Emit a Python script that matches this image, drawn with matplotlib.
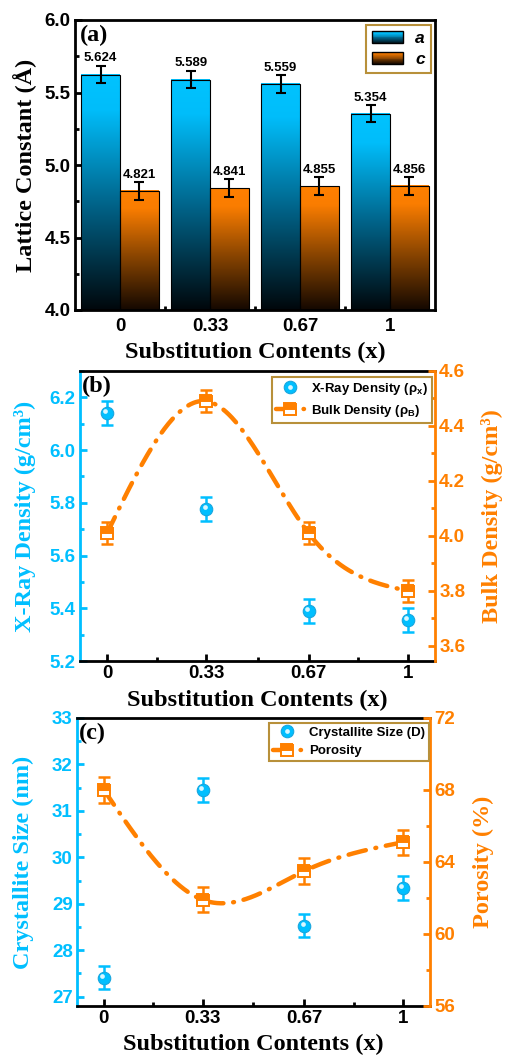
import numpy as np
import matplotlib
matplotlib.use('Agg')
import matplotlib.pyplot as plt
from matplotlib.colors import LinearSegmentedColormap
from matplotlib.patches import Rectangle
from matplotlib.lines import Line2D
from matplotlib.legend_handler import HandlerBase
from matplotlib.transforms import ScaledTranslation
from matplotlib.ticker import MultipleLocator, FixedLocator

# data
contents = [0, 0.33, 0.67, 1]
content_labels = ['0', '0.33', '0.67', '1']

lattice_a = [5.624, 5.589, 5.559, 5.354]
lattice_c = [4.821, 4.841, 4.855, 4.856]
lattice_a_err = [0.06, 0.06, 0.06, 0.06]
lattice_c_err = [0.06, 0.06, 0.06, 0.06]

xray_density = [6.14, 5.776, 5.39, 5.355]
xray_err = [0.045, 0.045, 0.045, 0.045]
bulk_density = [4.01, 4.49, 4.01, 3.80]
bulk_err = [0.04, 0.04, 0.04, 0.04]

cryst_size = [27.41, 31.45, 28.53, 29.34]
cryst_err = [0.25, 0.25, 0.25, 0.25]
porosity = [68.0, 61.9, 63.5, 65.1]
porosity_err = [0.7, 0.7, 0.7, 0.7]

CYAN = '#00BFFF'
ORANGE = '#FF8000'
GOLD = '#B8903A'
SERIF = 'Liberation Serif'
SANS = 'Liberation Sans'
DASH = (0, (4.0, 2.2, 0.2, 2.2))

plt.rcParams['font.family'] = SANS
plt.rcParams['font.weight'] = 'bold'
plt.rcParams['mathtext.default'] = 'regular'

cmap_a = LinearSegmentedColormap.from_list('a', [(0, '#00070b'), (0.45, '#00648a'), (0.85, '#00bdfa'), (1, '#00c3ff')])
cmap_c = LinearSegmentedColormap.from_list('c', [(0, '#140800'), (0.45, '#8a4500'), (0.85, '#fa7d00'), (1, '#ff8000')])


class GradientHandler(HandlerBase):
    def __init__(self, cmap):
        super().__init__()
        self.cmap = cmap

    def create_artists(self, legend, orig_handle, xdescent, ydescent, width, height, fontsize, trans):
        arts = []
        n = 14
        for i in range(n):
            arts.append(Rectangle((-xdescent, -ydescent + height * i / n), width, height / n * 1.1,
                                  facecolor=self.cmap((i + 0.5) / n), edgecolor='none', transform=trans))
        arts.append(Rectangle((-xdescent, -ydescent), width, height, facecolor='none',
                              edgecolor='black', lw=1, transform=trans))
        return arts


def spline_curve(x, y, n=300):
    # natural cubic spline through the points (Origin style spline connection)
    x = np.asarray(x, float)
    y = np.asarray(y, float)
    h = np.diff(x)
    m = len(x)
    A = np.zeros((m, m))
    r = np.zeros(m)
    A[0, 0] = A[-1, -1] = 1
    for i in range(1, m - 1):
        A[i, i - 1] = h[i - 1]
        A[i, i] = 2 * (h[i - 1] + h[i])
        A[i, i + 1] = h[i]
        r[i] = 6 * ((y[i + 1] - y[i]) / h[i] - (y[i] - y[i - 1]) / h[i - 1])
    M = np.linalg.solve(A, r)
    xs = np.linspace(x[0], x[-1], n)
    k = np.clip(np.searchsorted(x, xs) - 1, 0, m - 2)
    t0 = x[k + 1] - xs
    t1 = xs - x[k]
    hk = h[k]
    ys = (M[k] * t0 ** 3 / (6 * hk) + M[k + 1] * t1 ** 3 / (6 * hk)
          + (y[k] / hk - M[k] * hk / 6) * t0 + (y[k + 1] / hk - M[k + 1] * hk / 6) * t1)
    return xs, ys


def style_box(ax, lw=2):
    for s in ax.spines.values():
        s.set_linewidth(lw)


def spheres(ax, fig, x, y):
    ax.plot(x, y, 'o', ms=9, mfc=CYAN, mec='#18a6de', mew=0.8, zorder=5)
    off = ax.transData + ScaledTranslation(-1.3 / 72, 1.3 / 72, fig.dpi_scale_trans)
    ax.plot(x, y, 'o', ms=3.4, mfc='#d8f6ff', mec='none', zorder=6, transform=off)


fig = plt.figure(figsize=(5.05, 10.57), dpi=100)

# ---------------- (a) lattice constants ----------------
ax1 = fig.add_axes([75 / 505, 1 - 310 / 1057, 360 / 505, 290 / 1057])
pos = np.arange(len(contents))
w = 0.43
bars_a = ax1.bar(pos - w / 2, lattice_a, w, bottom=0, facecolor='none', edgecolor='black', lw=0.8, zorder=3)
bars_c = ax1.bar(pos + w / 2, lattice_c, w, bottom=0, facecolor='none', edgecolor='black', lw=0.8, zorder=3)
grad = np.linspace(0, 1, 256).reshape(-1, 1)
for bars, cm in ((bars_a, cmap_a), (bars_c, cmap_c)):
    for b in bars:
        x0 = b.get_x()
        ax1.imshow(grad, cmap=cm, origin='lower', aspect='auto', zorder=2,
                   extent=[x0, x0 + b.get_width(), 4.0, b.get_height()])
ax1.errorbar(pos - w / 2, lattice_a, yerr=lattice_a_err, fmt='none', ecolor='black', elinewidth=1.5,
             capsize=3.5, capthick=1.5, zorder=4)
ax1.errorbar(pos + w / 2, lattice_c, yerr=lattice_c_err, fmt='none', ecolor='black', elinewidth=1.5,
             capsize=3.5, capthick=1.5, zorder=4)
for xp, v, e in zip(pos - w / 2, lattice_a, lattice_a_err):
    ax1.text(xp, v + e + 0.01, f'{v:.3f}', ha='center', va='bottom', fontsize=9.5, fontweight='bold')
for xp, v, e in zip(pos + w / 2, lattice_c, lattice_c_err):
    ax1.text(xp, v + e + 0.01, f'{v:.3f}', ha='center', va='bottom', fontsize=9.5, fontweight='bold')
ax1.set_xlim(-0.5, 3.5)
ax1.set_ylim(4.0, 6.0)
ax1.set_xticks(pos)
ax1.set_xticklabels(content_labels)
ax1.xaxis.set_minor_locator(FixedLocator([0.5, 1.5, 2.5]))
ax1.yaxis.set_major_locator(MultipleLocator(0.5))
ax1.yaxis.set_minor_locator(MultipleLocator(0.25))
ax1.yaxis.set_major_formatter(plt.FormatStrFormatter('%.1f'))
ax1.tick_params(which='both', direction='in', width=2, labelsize=13.5, top=False, right=False)
ax1.tick_params(which='major', length=5)
ax1.tick_params(which='minor', length=3)
ax1.tick_params(axis='x', pad=6)
ax1.tick_params(axis='y', pad=3)
style_box(ax1)
ax1.set_ylabel('Lattice Constant (Å)', family=SERIF, fontsize=17.5, fontweight='bold')
ax1.yaxis.set_label_coords(-0.139, 0.5)
ax1.yaxis.label.set_va('center')
ax1.set_xlabel('Substitution Contents (x)', family=SERIF, fontsize=17.5, fontweight='bold')
ax1.xaxis.set_label_coords(0.5, -0.148)
ax1.xaxis.label.set_va('center')
ax1.text(0.014, 0.948, '(a)', transform=ax1.transAxes, family=SERIF, fontsize=17.5,
         fontweight='bold', va='center', ha='left')
h_a = Rectangle((0, 0), 1, 1)
h_c = Rectangle((0, 0), 1, 1)
leg = ax1.legend([h_a, h_c], ['a', 'c'], loc='upper right', bbox_to_anchor=(0.988, 0.982),
                 borderaxespad=0, fancybox=False, framealpha=1, edgecolor=GOLD,
                 handler_map={h_a: GradientHandler(cmap_a), h_c: GradientHandler(cmap_c)},
                 prop={'family': SANS, 'weight': 'bold', 'style': 'italic', 'size': 12.5},
                 handlelength=1.75, handleheight=0.7, labelspacing=0.3, borderpad=0.35,
                 handletextpad=0.7)
leg.get_frame().set_linewidth(1.5)


def density_panel(rect, left, left_err, right, right_err, left_lim, right_lim,
                  left_major, left_minor, right_major, right_minor, left_fmt, right_fmt,
                  ylabel_l, ylabel_r, lab_l_x, lab_r_x, tag, labels, leg_anchor):
    ax = fig.add_axes(rect)
    tw = ax.twinx()
    ax.errorbar(contents, left, yerr=left_err, fmt='none', ecolor=CYAN, elinewidth=1.8,
                capsize=4.5, capthick=1.8, zorder=4)
    spheres(ax, fig, contents, left)
    xs, ys = spline_curve(contents, right)
    tw.plot(xs, ys, color=ORANGE, lw=3.2, linestyle=DASH, dash_capstyle='round', zorder=3)
    tw.errorbar(contents, right, yerr=right_err, fmt='none', ecolor=ORANGE, elinewidth=1.8,
                capsize=4.5, capthick=1.8, zorder=4)
    tw.plot(contents, right, 's', ms=8, fillstyle='top', mfc=ORANGE, mfcalt='white',
            mec=ORANGE, mew=1.4, zorder=5)
    ax.set_xlim(-0.09, 1.09)
    ax.set_ylim(*left_lim)
    tw.set_ylim(*right_lim)
    ax.set_xticks(contents)
    ax.set_xticklabels(content_labels)
    ax.xaxis.set_minor_locator(FixedLocator([0.165, 0.5, 0.835]))
    ax.yaxis.set_major_locator(MultipleLocator(left_major))
    ax.yaxis.set_minor_locator(MultipleLocator(left_minor))
    tw.yaxis.set_major_locator(MultipleLocator(right_major))
    tw.yaxis.set_minor_locator(MultipleLocator(right_minor))
    ax.yaxis.set_major_formatter(plt.FormatStrFormatter(left_fmt))
    tw.yaxis.set_major_formatter(plt.FormatStrFormatter(right_fmt))
    ax.tick_params(which='both', direction='in', width=2, labelsize=13.5, top=False, right=False)
    ax.tick_params(which='major', length=5)
    ax.tick_params(which='minor', length=3)
    ax.tick_params(axis='x', pad=3)
    ax.tick_params(axis='y', which='both', colors=CYAN, pad=3)
    tw.tick_params(which='both', direction='in', width=2, labelsize=13.5, colors=ORANGE, pad=3)
    tw.tick_params(which='major', length=5)
    tw.tick_params(which='minor', length=3)
    style_box(ax)
    style_box(tw)
    ax.spines['left'].set_color(CYAN)
    ax.spines['right'].set_visible(False)
    tw.spines['left'].set_visible(False)
    tw.spines['top'].set_visible(False)
    tw.spines['bottom'].set_visible(False)
    tw.spines['right'].set_color(ORANGE)
    ax.set_ylabel(ylabel_l, family=SERIF, fontsize=17.5, fontweight='bold', color=CYAN)
    ax.yaxis.set_label_coords(lab_l_x, 0.5)
    ax.yaxis.label.set_va('center')
    tw.set_ylabel(ylabel_r, family=SERIF, fontsize=17.5, fontweight='bold', color=ORANGE)
    tw.yaxis.set_label_coords(lab_r_x, 0.5)
    tw.yaxis.label.set_va('center')
    ax.set_xlabel('Substitution Contents (x)', family=SERIF, fontsize=17.5, fontweight='bold')
    ax.xaxis.set_label_coords(0.5, -0.135)
    ax.xaxis.label.set_va('center')
    tw.text(0.006, 0.945, tag, transform=ax.transAxes, family=SERIF, fontsize=17.5,
            fontweight='bold', va='center', ha='left', zorder=10)
    h1 = Line2D([], [], ls='none', marker='o', ms=9, mfc=CYAN, mec='#18a6de', mew=0.8)
    h1b = Line2D([], [], ls='none', marker='o', ms=3.4, mfc='#d8f6ff', mec='none')
    h2 = Line2D([], [], color=ORANGE, lw=3.2, ls=DASH, marker='s', ms=8,
                fillstyle='top', mfc=ORANGE, mfcalt='white', mec=ORANGE, mew=1.4,
                dash_capstyle='round')
    lg = tw.legend([(h1, h1b), h2], labels, loc='upper right', bbox_to_anchor=leg_anchor,
                   borderaxespad=0, fancybox=False, framealpha=1, edgecolor=GOLD,
                   prop={'family': SANS, 'weight': 'bold', 'size': 9.5}, handlelength=2.1,
                   labelspacing=0.45, borderpad=0.3, handletextpad=0.6)
    lg.get_frame().set_linewidth(1.5)
    return ax, tw


# ---------------- (b) densities ----------------
density_panel([80 / 505, 1 - 661 / 1057, 355 / 505, 290 / 1057],
              xray_density, xray_err, bulk_density, bulk_err,
              (5.2, 6.3), (3.545, 4.6), 0.2, 0.1, 0.2, 0.1, '%.1f', '%.1f',
              'X-Ray Density (g/cm³)', 'Bulk Density (g/cm³)', -0.155, 1.16, '(b)',
              ['X-Ray Density ($\\rho_x$)', 'Bulk Density ($\\rho_B$)'], (0.992, 0.979))

# ---------------- (c) crystallite size / porosity ----------------
density_panel([77 / 505, 1 - 1006 / 1057, 353 / 505, 288 / 1057],
              cryst_size, cryst_err, porosity, porosity_err,
              (26.8, 33), (56, 72), 1, 0.5, 4, 2, '%d', '%d',
              'Crystallite Size (nm)', 'Porosity (%)', -0.153, 1.150, '(c)',
              ['Crystallite Size (D)', 'Porosity'], (0.997, 0.983))

fig.savefig('out.png', dpi=100)
